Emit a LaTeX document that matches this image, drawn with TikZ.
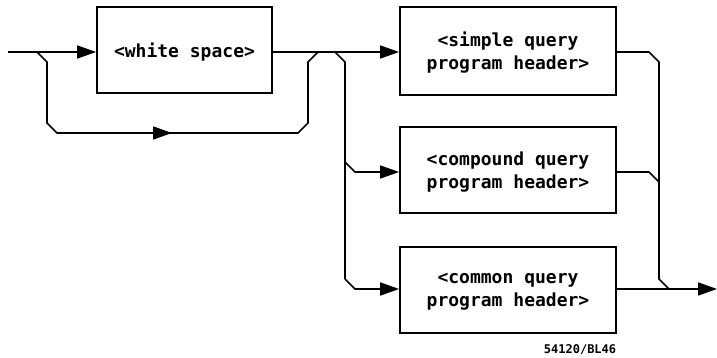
\documentclass[tikz,border=0pt]{standalone}
\usepackage{fontspec}
\newfontfamily\plotfont{DejaVu Sans Mono}
\usetikzlibrary{arrows.meta}
\begin{document}
\begin{tikzpicture}[x=1pt,y=-1pt,line width=1.7pt,
    box/.style={draw,rectangle,align=center,inner sep=0,text depth=0pt,font=\plotfont\bfseries\fontsize{18}{23}\selectfont},
    arr/.style={-{Triangle[length=19pt,width=13pt]}}]
        \useasboundingbox (0,0) rectangle (717,358);
        \node[box,minimum width=175pt,minimum height=86pt] at (184.5,50) (ws) {<white space>};
        \node[box,minimum width=216pt,minimum height=88pt] at (508,51) (simple) {<simple query\\program header>};
        \node[box,minimum width=216pt,minimum height=86pt] at (508,170) (compound) {<compound query\\program header>};
        \node[box,minimum width=216pt,minimum height=86pt] at (508,290) (common) {<common query\\program header>};
        \coordinate (in) at (8,52);
        \coordinate (out) at (717,289);
        % white space or bypass
        \draw[arr] (in) -- (ws.west |- in);
        \draw[arr] (37,52) -- (47,62) -- (47,123) -- (57,133) -- (172,133);
        \draw (170,133) -- (298,133) -- (308,123) -- (308,62) -- (318,52);
        \draw[arr] (ws.east |- in) -- (simple.west |- in);
        % branches to the headers
        \draw (335,52) -- (345,62) -- (345,279);
        \draw[arr] (345,162) -- (355,172) -- (compound.west |- 0,172);
        \draw[arr] (345,279) -- (355,289) -- (common.west |- out);
        % joins on the right
        \draw (simple.east |- in) -- (649,52) -- (659,62) -- (659,279) -- (669,289);
        \draw (compound.east |- 0,172) -- (649,172) -- (659,182);
        \draw[arr] (common.east |- out) -- (out);
        \node[anchor=east,inner sep=0,font=\plotfont\bfseries\fontsize{12}{12}\selectfont] at (617,350) (fig) {54120/BL46};
    \end{tikzpicture}
\end{document}
